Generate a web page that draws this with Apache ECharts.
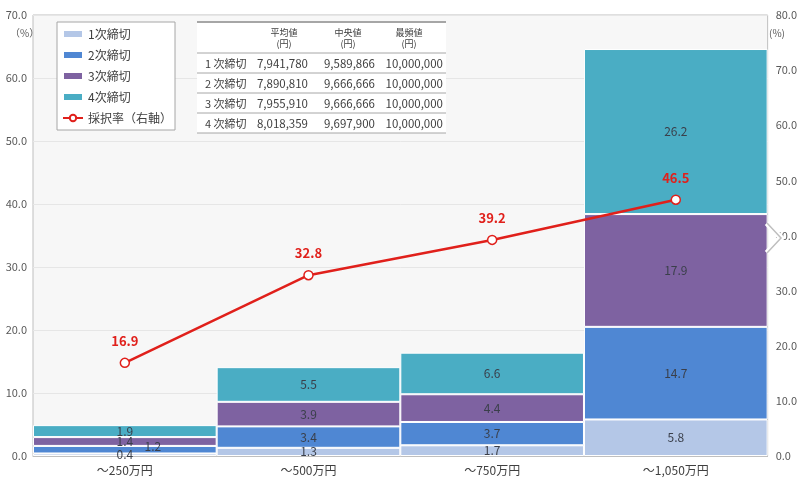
<!DOCTYPE html>
<html>
<head>
<meta charset="utf-8">
<script src="https://cdn.jsdelivr.net/npm/echarts@6/dist/echarts.min.js"></script>
<style>
html,body{margin:0;padding:0;background:#fff;}
#c{width:800px;height:488px;}
</style>
</head>
<body>
<div id="c"></div>
<script>
// ---- data ----
const categories = ['～250万円', '～500万円', '～750万円', '～1,050万円'];
const seriesNames = ['1次締切', '2次締切', '3次締切', '4次締切'];
const round1 = [0.4, 1.3, 1.7, 5.8];
const round2 = [1.2, 3.4, 3.7, 14.7];
const round3 = [1.4, 3.9, 4.4, 17.9];
const round4 = [1.9, 5.5, 6.6, 26.2];
const lineName = '採択率（右軸）';
const adoptionRate = [16.9, 32.8, 39.2, 46.5];

const tableHeaders = ['平均値', '中央値', '最頻値'];
const tableUnit = '(円)';
const tableRows = ['1 次締切', '2 次締切', '3 次締切', '4 次締切'];
const tableMean = ['7,941,780', '7,890,810', '7,955,910', '8,018,359'];
const tableMedian = ['9,589,866', '9,666,666', '9,666,666', '9,697,900'];
const tableMode = ['10,000,000', '10,000,000', '10,000,000', '10,000,000'];

const colors = ['#B4C7E7', '#4F87D3', '#7E62A1', '#4AADC4'];
const FONT = '"Noto Sans CJK JP", "Noto Sans", sans-serif';

const chart = echarts.init(document.getElementById('c'), null, {renderer: 'canvas'});

const barData = [round1, round2, round3, round4];
const barSeries = barData.map((d, i) => ({
  name: seriesNames[i],
  type: 'bar',
  stack: 'total',
  yAxisIndex: 0,
  barWidth: '100%',
  data: d.map((v, j) => {
    const item = {value: v};
    if (i === 1 && j === 0) item.label = {offset: [28, -3]};
    return item;
  }),
  itemStyle: {color: colors[i], borderColor: '#fff', borderWidth: 1},
  label: {show: true, position: 'inside', color: '#3A3F4A', fontSize: 12, fontFamily: FONT,
          formatter: p => p.value.toFixed(1)},
  emphasis: {disabled: true}
}));

// table graphics
const tLeft = 197, tRight = 446, tTop = 22, headerBottom = 53, rowH = 20;
const colRight = [308, 375, 443];
const colCenter = [284, 348, 409];
const g = [];
g.push({type: 'rect', shape: {x: tLeft, y: tTop, width: tRight - tLeft, height: headerBottom + rowH * tableRows.length - tTop}, style: {fill: '#fff'}, z: 10});
g.push({type: 'line', shape: {x1: tLeft, y1: tTop, x2: tRight, y2: tTop}, style: {stroke: '#A6A6A6', lineWidth: 2}, z: 11});
g.push({type: 'line', shape: {x1: tLeft, y1: headerBottom, x2: tRight, y2: headerBottom}, style: {stroke: '#A6A6A6', lineWidth: 1}, z: 11});
tableHeaders.forEach((h, k) => {
  g.push({type: 'text', x: colCenter[k], y: 33, style: {text: h, font: '9px ' + FONT, fill: '#404040', align: 'center', verticalAlign: 'middle'}, z: 12});
  g.push({type: 'text', x: colCenter[k], y: 44, style: {text: tableUnit, font: '9px ' + FONT, fill: '#404040', align: 'center', verticalAlign: 'middle'}, z: 12});
});
tableRows.forEach((r, i) => {
  const yc = headerBottom + rowH * i + rowH / 2 + 1;
  g.push({type: 'text', x: 205, y: yc, style: {text: r, font: '11px ' + FONT, fill: '#404040', align: 'left', verticalAlign: 'middle'}, z: 12});
  [tableMean, tableMedian, tableMode].forEach((col, k) => {
    g.push({type: 'text', x: colRight[k], y: yc, style: {text: col[i], font: '11.5px ' + FONT, fill: '#404040', align: 'right', verticalAlign: 'middle'}, z: 12});
  });
  const yl = headerBottom + rowH * (i + 1);
  g.push({type: 'line', shape: {x1: tLeft, y1: yl, x2: tRight, y2: yl}, style: {stroke: '#A6A6A6', lineWidth: 1}, z: 11});
});
// axis unit labels
g.push({type: 'text', x: 10, y: 33, style: {text: '（%）', font: '10px ' + FONT, fill: '#595959', align: 'left', verticalAlign: 'middle'}, z: 12});
g.push({type: 'text', x: 769, y: 33, style: {text: '(%)', font: '10px ' + FONT, fill: '#595959', align: 'left', verticalAlign: 'middle'}, z: 12});
// chevron overlay
g.push({type: 'polyline', shape: {points: [[767, 223], [781, 238], [767, 253]]}, style: {stroke: '#FFFFFF', lineWidth: 6, fill: null}, z: 20});
g.push({type: 'polyline', shape: {points: [[767, 223], [781, 238], [767, 253]]}, style: {stroke: '#BFBFBF', lineWidth: 1.5, fill: null}, z: 21});

const option = {
  animation: false,
  backgroundColor: '#fff',
  textStyle: {fontFamily: FONT},
  grid: {left: 33, right: 32, top: 15, bottom: 32, show: true, backgroundColor: '#F7F7F7', borderColor: '#BFBFBF', borderWidth: 1},
  legend: {
    orient: 'vertical', left: 57, top: 22,
    padding: [4, 3, 4, 5],
    borderColor: '#A6A6A6', borderWidth: 1, backgroundColor: '#fff',
    itemWidth: 20, itemHeight: 8, itemGap: 5,
    textStyle: {fontSize: 12, color: '#404040', fontFamily: FONT, lineHeight: 16},
    data: [
      {name: seriesNames[0], icon: 'rect'},
      {name: seriesNames[1], icon: 'rect'},
      {name: seriesNames[2], icon: 'rect'},
      {name: seriesNames[3], icon: 'rect'},
      {name: lineName}
    ]
  },
  xAxis: {
    type: 'category', data: categories,
    axisLine: {lineStyle: {color: '#BFBFBF'}},
    axisTick: {show: false},
    axisLabel: {color: '#404040', fontSize: 12, margin: 8, fontFamily: FONT}
  },
  yAxis: [
    {type: 'value', min: 0, max: 70, interval: 10, position: 'left',
     axisLine: {show: false}, axisTick: {show: false},
     splitLine: {lineStyle: {color: '#E6E6E6'}},
     axisLabel: {color: '#595959', fontSize: 11, margin: 6, formatter: v => v.toFixed(1), fontFamily: FONT}},
    {type: 'value', min: 0, max: 80, interval: 10, position: 'right',
     axisLine: {show: false}, axisTick: {show: false},
     splitLine: {show: false},
     axisLabel: {color: '#595959', fontSize: 11, margin: 8, formatter: v => v.toFixed(1), fontFamily: FONT}}
  ],
  series: barSeries.concat([{
    name: lineName, type: 'line', yAxisIndex: 1,
    data: adoptionRate,
    symbol: 'circle', symbolSize: 9,
    itemStyle: {color: '#fff', borderColor: '#E0201B', borderWidth: 1.5},
    lineStyle: {color: '#E0201B', width: 2.5},
    label: {show: true, position: 'top', distance: 10, color: '#E0201B', fontWeight: 'bold', fontSize: 13, fontFamily: FONT,
            formatter: p => p.value.toFixed(1)},
    z: 5,
    emphasis: {disabled: true}
  }]),
  graphic: g
};
chart.setOption(option);
</script>
</body>
</html>
